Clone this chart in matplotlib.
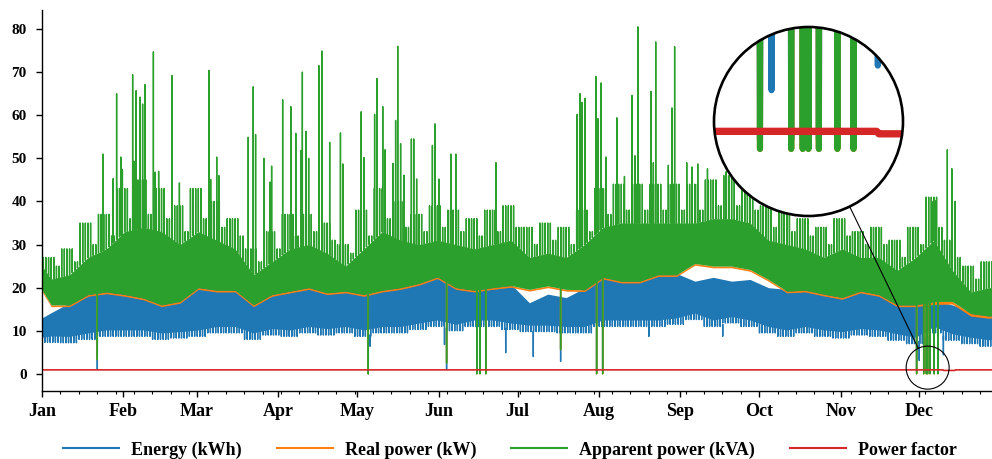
import numpy as np
import matplotlib
matplotlib.use("Agg")
import matplotlib.pyplot as plt
import matplotlib.dates as mdates
from matplotlib.patches import Circle, Ellipse
from matplotlib.lines import Line2D
from datetime import datetime

plt.rcParams["font.family"] = ["Liberation Serif", "DejaVu Serif"]
plt.rcParams["font.weight"] = "bold"

C_ENERGY = "#1f77b4"
C_REAL = "#ff7f0e"
C_APPARENT = "#2ca02c"
C_PF = "#d62728"

X0 = mdates.date2num(datetime(2018, 1, 1))   # Monday
END_DAY = 361.6

# band envelopes, day-of-year: record start, one value per week, record end
week_days = np.concatenate([[0.0], 3.5 + 7 * np.arange(52), [END_DAY]])

# nightly minimum of energy, and the level above which it is solid
energy_lo = [7.0,
             7.3, 7.2, 8.0, 8.7, 8.7, 8.7, 8.0, 8.3, 8.7, 9.5,
             9.5, 8.0, 9.0, 8.7, 9.5, 9.0, 9.5, 8.7, 9.5, 9.5,
             10.3, 11.0, 10.0, 11.0, 11.0, 10.3, 9.8, 9.8, 9.5, 9.5,
             11.0, 11.0, 11.0, 11.0, 11.5, 12.6, 11.0, 11.8, 11.0, 9.5,
             8.7, 9.5, 8.7, 8.3, 9.0, 8.7, 7.8, 7.0, 9.5, 7.8,
             7.0, 6.4,
             6.5]
energy_core = [8.5,
               8.8, 8.7, 9.5, 10.2, 10.2, 10.2, 9.5, 9.8, 10.2, 11.0,
               11.0, 9.5, 10.5, 10.2, 11.0, 10.5, 11.0, 10.2, 11.0, 11.0,
               11.8, 12.5, 11.5, 12.5, 12.5, 11.8, 11.3, 11.3, 11.0, 11.0,
               12.5, 12.5, 12.5, 12.5, 13.0, 14.1, 12.5, 13.3, 12.5, 11.0,
               10.2, 11.0, 10.2, 9.8, 10.5, 10.2, 9.3, 8.5, 11.0, 9.3,
               8.5, 7.9,
               8.0]
energy_hi = [13.0,
             14.2, 16.5, 18.6, 19.2, 18.8, 18.2, 17.0, 17.3, 20.2, 19.8,
             19.8, 16.5, 18.8, 19.6, 20.3, 19.2, 19.5, 18.8, 19.8, 20.4,
             21.5, 22.8, 20.4, 19.8, 20.3, 20.8, 16.5, 18.5, 17.7, 19.9,
             22.8, 21.9, 21.9, 23.4, 23.3, 21.5, 22.4, 21.5, 21.9, 20.0,
             19.6, 19.8, 18.9, 18.1, 19.6, 18.8, 16.2, 16.4, 17.0, 16.0,
             14.4, 13.5,
             13.6]
real_lo = [19.1,
           15.6, 15.6, 18.0, 18.6, 18.0, 17.2, 15.6, 16.4, 19.6, 19.0,
           19.0, 15.6, 18.0, 18.8, 19.6, 18.4, 18.8, 18.0, 19.0, 19.6,
           20.6, 22.1, 19.6, 19.0, 19.6, 20.1, 19.2, 20.0, 19.2, 19.1,
           22.0, 21.1, 21.1, 22.6, 22.6, 25.2, 24.6, 24.6, 23.8, 21.5,
           18.8, 19.0, 18.1, 17.3, 18.8, 18.0, 15.6, 15.6, 16.1, 16.2,
           13.4, 12.9,
           13.0]
apparent_lo = [19.5,
               16.0, 16.0, 18.4, 19.0, 18.4, 17.6, 16.0, 16.8, 20.0, 19.4,
               19.4, 16.0, 18.4, 19.2, 20.0, 18.8, 19.2, 18.4, 19.4, 20.0,
               21.0, 22.5, 20.0, 19.4, 20.0, 20.5, 19.6, 20.4, 19.6, 19.5,
               22.4, 21.5, 21.5, 23.0, 23.0, 25.6, 25.0, 25.0, 24.2, 21.9,
               19.2, 19.4, 18.5, 17.7, 19.2, 18.4, 16.0, 16.0, 16.8, 16.8,
               14.0, 13.4,
               13.5]
# level up to which apparent power is solid (covered every day)
apparent_core = [25,
                 22, 23, 27, 29, 33, 34, 33, 30, 33, 31,
                 29, 23, 26, 29, 30, 28, 25, 29, 33, 31,
                 30, 31, 30, 29, 30, 31, 27, 28, 27, 30,
                 34, 35, 35, 35, 35, 35, 36, 36, 35, 31,
                 30, 29, 27, 29, 27, 27, 24, 27, 31, 24,
                 19, 20,
                 20]
# typical daily peak of apparent power per week: weekdays and weekend
apparent_wkday = [27, 29, 35, 37, 43, 45, 43, 39, 43, 40,
                  36, 29, 33, 37, 37, 35, 30, 38, 43, 40,
                  37, 39, 38, 36, 38, 39, 34, 35, 34, 38,
                  43, 44, 44, 44, 44, 44, 45, 46, 45, 39,
                  38, 36, 34, 36, 33, 34, 31, 34, 41, 31,
                  25, 26]
apparent_wkend = [25, 26, 30, 32, 36, 37, 36, 33, 36, 34,
                  32, 26, 29, 32, 33, 31, 28, 32, 36, 34,
                  33, 34, 33, 32, 33, 34, 30, 31, 30, 33,
                  37, 38, 38, 38, 38, 38, 39, 39, 38, 34,
                  33, 32, 30, 32, 30, 30, 27, 30, 34, 27,
                  22, 23]

# isolated peaks of apparent power (day-of-year, kVA)
peak_days = [23.3, 27.1, 28.4, 30.0, 30.6, 34.5, 35.0, 35.8, 37.3, 38.3,
             39.2, 42.4, 43.1, 44.4, 49.5, 52.3, 63.6, 64.2, 66.5, 67.3,
             78.5, 80.4, 81.3, 84.5, 86.8, 87.4, 91.6, 94.7, 96.6, 98.6,
             99.1, 100.5, 101.5, 105.4, 106.5, 109.5, 113.6, 114.5, 121.5, 122.5,
             126.6, 127.5, 129.7, 130.6, 133.6, 134.6, 135.4, 136.5, 137.8, 140.6,
             141.5, 142.6, 148.6, 149.6, 151.1, 155.6, 157.5, 172.8, 203.7, 204.8,
             205.6, 206.7, 210.8, 211.6, 212.8, 214.6, 218.8, 221.7, 224.6, 225.7,
             226.8, 231.8, 232.7, 233.6, 238.4, 239.8, 240.8, 245.4, 247.4, 249.6,
             253.3, 260.4, 338.7, 339.9, 344.6, 346.3, 347.5]
peak_vals = [51.0, 45.3, 65.0, 50.3, 47.4, 69.4, 49.3, 65.7, 64.2, 62.6,
             67.1, 74.7, 46.8, 47.0, 69.2, 44.3, 70.4, 45.1, 50.3, 46.0,
             54.9, 66.6, 55.5, 50.0, 44.5, 48.2, 63.6, 62.0, 55.8, 51.8,
             70.0, 56.3, 50.0, 71.5, 74.9, 53.7, 55.9, 48.7, 60.8, 50.2,
             60.2, 68.5, 62.0, 52.0, 48.8, 58.8, 76.0, 53.4, 46.1, 54.5,
             54.5, 45.2, 53.0, 58.0, 45.2, 51.0, 51.0, 49.0, 60.2, 65.0,
             63.0, 63.9, 69.0, 59.2, 67.5, 50.3, 59.4, 45.8, 64.6, 50.6,
             80.5, 65.5, 49.0, 77.0, 48.4, 61.7, 75.9, 49.0, 48.0, 48.7,
             47.6, 46.9, 40.0, 40.2, 52.0, 47.6, 40.0]

# outages / dropouts (day-of-year, lowest reading)
drop_days = [21.05, 124.2, 154.0, 165.5, 166.7, 168.9, 197.4, 211.1, 213.4,
             332.9, 335.6, 336.6, 337.1, 338.0, 339.6, 341.0]
apparent_drop = [3.3, 0.0, 2.5, 0.0, 0.0, 0.0, 5.6, 0.0, 0.0,
                 0.0, 0.0, 0.0, 0.0, 0.0, 0.0, 0.0]
energy_drop_days = [21.05, 124.2, 124.9, 153.2, 154.0, 165.5, 166.7, 168.9,
                    176.5, 187.0, 197.4, 211.1, 213.4, 231.0, 259.1,
                    332.9, 333.9, 335.6, 336.6, 337.1, 338.0, 339.6, 341.0, 343.1]
energy_drop = [1.0, 0.0, 6.4, 6.8, 1.0, 0.5, 1.0, 0.5,
               4.9, 4.0, 2.9, 0.5, 0.5, 8.7, 8.7,
               0.5, 3.1, 0.5, 0.5, 0.5, 0.5, 0.5, 0.5, 4.4]

pf_days = [0.0, 343.0, 343.2, 347.5, 347.7, END_DAY]
pf_vals = [0.93, 0.93, 0.80, 0.80, 0.93, 0.93]

# zoom window around the December outages
ZOOM_DAY, ZOOM_Y = 337.1, 1.45
ZOOM_DX, ZOOM_DY = 8.18, 4.99
MAG = 4.4

# day-by-day positions (weeks start on Monday): midday peaks, night troughs
dow = np.arange(7)
week_no = np.arange(52)
noon = (7 * week_no[:, None] + dow[None, :] + 0.5).ravel()
noon_peak = np.where(dow[None, :] < 5,
                     np.array(apparent_wkday)[:, None],
                     np.array(apparent_wkend)[:, None]).ravel()
night = (7 * week_no[:, None] + dow[None, :] + 0.1).ravel()
night_low = np.repeat(energy_lo[1:53], 7)
keep = noon < END_DAY
noon, noon_peak = noon[keep], noon_peak[keep]
keep = night < END_DAY
night, night_low = night[keep], night_low[keep]


def spike_path(days, tips, base_days, base_vals, eps=0.03):
    xs, ys = [], []
    for d, v in zip(days, tips):
        b = np.interp(d, base_days, base_vals)
        xs += [d - eps, d, d + eps, np.nan]
        ys += [b, v, b, np.nan]
    return X0 + np.array(xs), np.array(ys)


def draw(ax, lw):
    x = X0 + week_days
    ax.fill_between(x, energy_core, energy_hi, color=C_ENERGY, lw=0)
    ax.plot(*spike_path(night, night_low, week_days, energy_core),
            color=C_ENERGY, lw=lw)
    ax.plot(*spike_path(energy_drop_days, energy_drop, week_days, energy_lo),
            color=C_ENERGY, lw=lw)
    ax.fill_between(x, real_lo, apparent_lo, color=C_REAL, lw=0)
    ax.plot(*spike_path(drop_days, apparent_drop, week_days, real_lo),
            color=C_REAL, lw=lw)
    ax.fill_between(x, apparent_lo, apparent_core, color=C_APPARENT, lw=0)
    ax.plot(*spike_path(noon, noon_peak, week_days, apparent_core),
            color=C_APPARENT, lw=lw)
    ax.plot(*spike_path(peak_days, peak_vals, week_days, apparent_core),
            color=C_APPARENT, lw=lw)
    ax.plot(*spike_path(drop_days, apparent_drop, week_days, apparent_lo),
            color=C_APPARENT, lw=lw)
    ax.plot(X0 + np.array(pf_days), pf_vals, color=C_PF, lw=lw * 1.2)


W, H = 992, 459
fig = plt.figure(figsize=(W / 100, H / 100), dpi=100)
ax = fig.add_axes([42 / W, 1 - 390.7 / H, 1 - 42 / W, (390.7 - 10) / H])
draw(ax, 1.0)

ax.set_xlim(X0, X0 + END_DAY)
ax.set_ylim(-3.9, 84.4)
ax.set_yticks(np.arange(0, 81, 10))
ax.xaxis.set_major_locator(mdates.MonthLocator())
ax.xaxis.set_major_formatter(mdates.DateFormatter("%b"))
ax.xaxis.set_minor_locator(mdates.WeekdayLocator(byweekday=mdates.MO))
for s in ("top", "right"):
    ax.spines[s].set_visible(False)
for s in ("left", "bottom"):
    ax.spines[s].set_linewidth(1.0)
ax.tick_params(which="major", length=4.5, width=1.0)
ax.tick_params(which="minor", length=2.3, width=0.8)
ax.tick_params(axis="y", labelsize=11, pad=6.5)
ax.tick_params(axis="x", labelsize=13, pad=4.5)

# small circle marking the zoomed region
ax.add_patch(Ellipse((X0 + ZOOM_DAY, ZOOM_Y), 2 * ZOOM_DX, 2 * ZOOM_DY,
                     fill=False, ec="black", lw=0.8, zorder=10))

# magnified circular inset
big_cx, big_cy, big_r = 808.5, H - 121.5, 94.5
ax_in = fig.add_axes([(big_cx - big_r) / W, (big_cy - big_r) / H,
                      2 * big_r / W, 2 * big_r / H])
ax_in.set_zorder(5)
ax_in.patch.set_visible(False)
ax_in.add_patch(Circle((0.5, 0.5), 0.5, transform=ax_in.transAxes,
                       fc="white", ec="none", zorder=0))
draw(ax_in, 1.0 * MAG)
ax_in.set_xlim(X0 + ZOOM_DAY - ZOOM_DX, X0 + ZOOM_DAY + ZOOM_DX)
ax_in.set_ylim(ZOOM_Y - ZOOM_DY, ZOOM_Y + ZOOM_DY)
ax_in.axis("off")
clip = Circle((0.5, 0.5), 0.5, transform=ax_in.transAxes)
for art in ax_in.lines + ax_in.collections:
    art.set_clip_path(clip)
ax_in.add_patch(Circle((0.5, 0.5), 0.5, transform=ax_in.transAxes,
                       fill=False, ec="black", lw=1.9, zorder=20, clip_on=False))

# connector between the two circles
sx, sy = ax.transData.transform((X0 + ZOOM_DAY, ZOOM_Y))
small_r = ZOOM_DX * (ax.transData.transform((X0 + 1, 0))[0]
                     - ax.transData.transform((X0, 0))[0])
u = np.array([sx - big_cx, sy - big_cy])
u /= np.hypot(*u)
p1 = np.array([big_cx, big_cy]) + u * big_r
p2 = np.array([sx, sy]) - u * small_r
fig.add_artist(Line2D([p1[0] / W, p2[0] / W], [p1[1] / H, p2[1] / H],
                      transform=fig.transFigure, color="black", lw=0.8))

handles = [Line2D([], [], color=c, lw=1.5)
           for c in (C_ENERGY, C_REAL, C_APPARENT, C_PF)]
labels = ["Energy (kWh)", "Real power (kW)", "Apparent power (kVA)", "Power factor"]
fig.legend(handles, labels, loc="center", bbox_to_anchor=(510 / W, 1 - 450 / H),
           ncol=4, frameon=False, handlelength=3.1, handletextpad=0.65,
           columnspacing=1.95, prop={"weight": "bold", "size": 13})

fig.savefig("out.png", dpi=100)
